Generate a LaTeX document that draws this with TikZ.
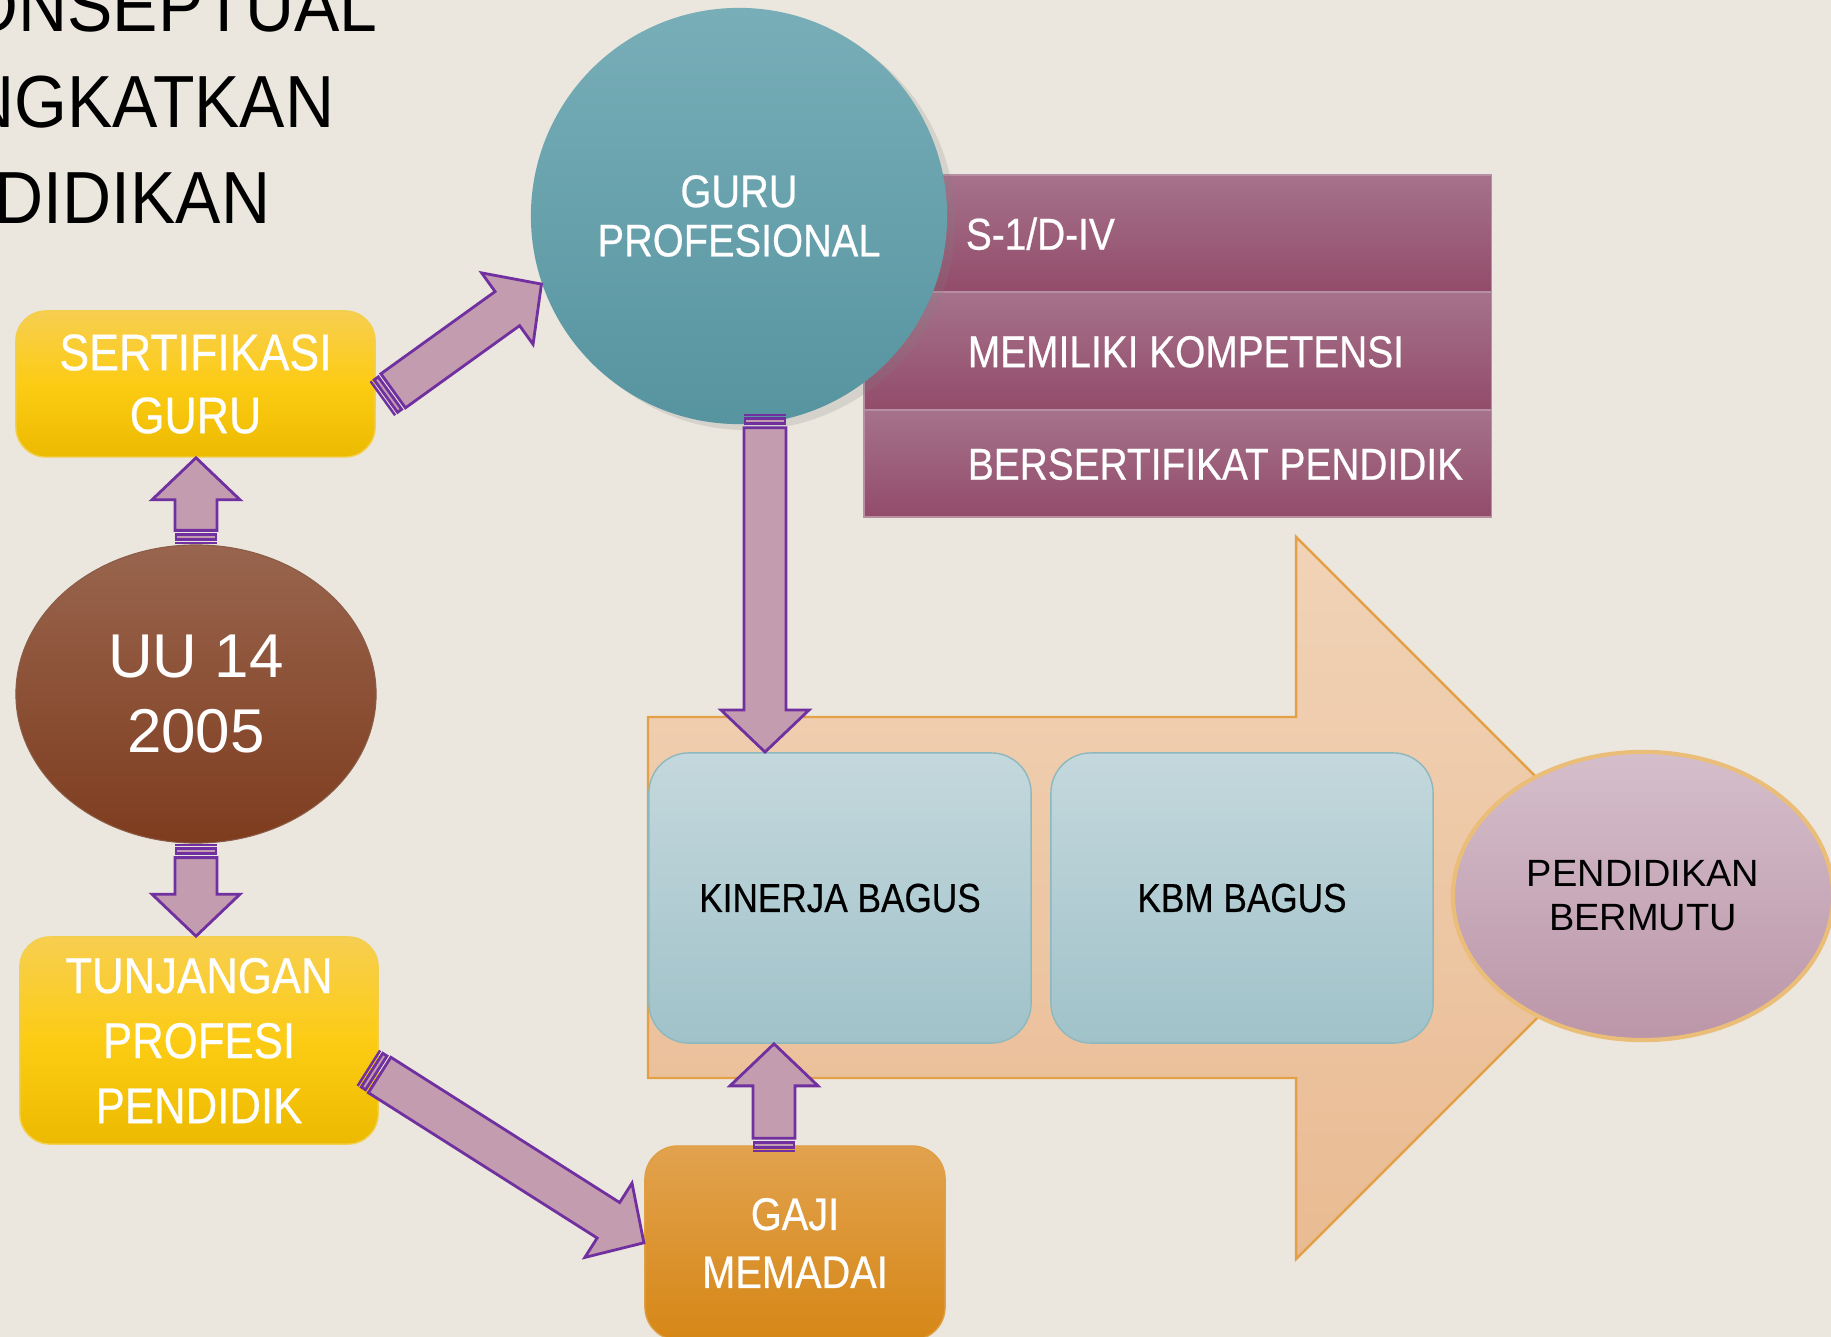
\documentclass[tikz,border=0pt]{standalone}
\usepackage{fontspec}
\setmainfont{Liberation Sans}
\newfontfamily\condfont{Liberation Sans}[FakeStretch=0.87, FakeBold=0.5]
\newfontfamily\titlefont{Liberation Sans}[FakeStretch=0.92]
\usetikzlibrary{positioning,calc,shadows,shapes.geometric}

\definecolor{bgbeige}{RGB}{235,231,222}
\definecolor{tealA}{RGB}{120,174,184}
\definecolor{tealB}{RGB}{86,148,160}
\definecolor{plumA}{RGB}{166,114,139}
\definecolor{plumB}{RGB}{146,76,106}
\definecolor{bigA}{RGB}{241,211,183}
\definecolor{bigB}{RGB}{233,187,146}
\definecolor{bigline}{RGB}{228,160,70}
\definecolor{blueA}{RGB}{196,216,221}
\definecolor{blueB}{RGB}{160,194,201}
\definecolor{blueline}{RGB}{140,184,190}
\definecolor{pendA}{RGB}{213,190,203}
\definecolor{pendB}{RGB}{187,150,168}
\definecolor{pendline}{RGB}{234,190,120}
\definecolor{yelA}{RGB}{247,206,80}
\definecolor{yelB}{RGB}{252,204,20}
\definecolor{yelC}{RGB}{236,186,0}
\definecolor{brownA}{RGB}{153,101,78}
\definecolor{brownB}{RGB}{126,60,30}
\definecolor{gajiA}{RGB}{226,162,78}
\definecolor{gajiB}{RGB}{214,135,22}
\definecolor{arrfill}{RGB}{196,156,175}
\definecolor{arrline}{RGB}{112,48,160}

\tikzset{
  arrbody/.style={fill=arrfill, draw=arrline, line width=0.8pt, line join=miter},
  titletext/.style={anchor=base east, inner sep=0, font=\titlefont\fontsize{21}{25}\selectfont},
  yellowbox/.style={rounded corners=0.3cm, top color=yelA, bottom color=yelC, middle color=yelB,
    draw=yelC!70!white, minimum width=3.59cm, align=center, text=white, inner sep=0},
  bluebox/.style={rounded corners=0.4cm, top color=blueA, bottom color=blueB, draw=blueline,
    minimum width=3.82cm, minimum height=2.9cm, inner sep=0,
    font=\condfont\fontsize{11.5}{14}\selectfont},
  barrow/.style={minimum width=6.27cm, inner sep=0, top color=plumA, bottom color=plumB,
    draw=plumA!80!white, line width=0.4pt},
  bartext/.style={inner sep=0, text=white, text height=9.2pt, text depth=0pt,
    font=\condfont\fontsize{12.7}{15}\selectfont}
}

% panah blok bergaris
\newcommand{\blockarr}[2]{%
  \path (#1); \pgfgetlastxy{\ax}{\ay}
  \path (#2); \pgfgetlastxy{\bx}{\by}
  \pgfmathsetmacro{\arrang}{atan2(\by-\ay,\bx-\ax)}
  \pgfmathsetmacro{\arrlen}{veclen(\bx-\ax,\by-\ay)/0.284528}
  \begin{scope}[shift={(\ax,\ay)}, rotate=\arrang, x=0.01cm, y=0.01cm]
    \fill[arrline] (0,-21) rectangle (2.5,21);
    \draw[arrbody] (5,-20) rectangle (10,20);
    \draw[arrbody] (14,-21) -- (\arrlen-42,-21) -- (\arrlen-42,-44) -- (\arrlen,0)
      -- (\arrlen-42,44) -- (\arrlen-42,21) -- (14,21) -- cycle;
  \end{scope}}

\begin{document}
\begin{tikzpicture}[x=0.01cm, y=-0.01cm]
\useasboundingbox (0,0) rectangle (1831,1337);
\fill[bgbeige] (0,0) rectangle (1831,1337);

% judul (terpotong di kiri)
\node[titletext] (tt1) at (378,32) {ONSEPTUAL};
\node[titletext] (tt2) at (335,128) {NGKATKAN};
\node[titletext] (tt3) at (271,224) {DIDIKAN};

% panah besar
\draw[top color=bigA, bottom color=bigB, draw=bigline, line width=0.7pt]
  (648,717) -- (1296,717) -- (1296,537) -- (1657,898) -- (1296,1259) -- (1296,1078) -- (648,1078) -- cycle;

% syarat guru
\node[barrow, minimum height=1.17cm] (r1) at (1177.5,233.5) {};
\node[barrow, minimum height=1.18cm] (r2) at (1177.5,351) {};
\node[barrow, minimum height=1.07cm] (r3) at (1177.5,463.5) {};
\node[bartext, right=1.02cm of r1.west] (b1) {S-1/D-IV};
\node[bartext, right=1.04cm of r2.west] (b2) {MEMILIKI KOMPETENSI};
\node[bartext, right=1.04cm of r3.west] (b3) {BERSERTIFIKAT PENDIDIK};

\node[circle, minimum size=4.16cm, inner sep=0, top color=tealA, bottom color=tealB,
  drop shadow={opacity=0.2, shadow xshift=0.08cm, shadow yshift=-0.06cm},
  text=white, align=center, font=\condfont\fontsize{13}{14}\selectfont] (guru) at (739,216) {GURU\\PROFESIONAL};

\node[yellowbox, minimum height=1.46cm, font=\condfont\fontsize{14.6}{17.9}\selectfont] (sert) at (195.5,384) {SERTIFIKASI\\GURU};
\node[ellipse, minimum width=3.6cm, minimum height=2.98cm, inner sep=0, top color=brownA, bottom color=brownB,
  draw=brownA!90!black, line width=0.3pt, text=white, align=center,
  font=\fontsize{17.6}{21.6}\selectfont] (uu) at (196,694) {UU 14\\2005};
\node[yellowbox, minimum width=3.58cm, minimum height=2.07cm, font=\condfont\fontsize{14.3}{18.5}\selectfont] (tunj) at (199,1040.5) {TUNJANGAN\\PROFESI\\PENDIDIK};
\node[rounded corners=0.33cm, minimum width=3cm, minimum height=1.94cm, inner sep=0, top color=gajiA, bottom color=gajiB,
  draw=gajiB!80!white, text=white, align=center, font=\condfont\fontsize{13}{16.5}\selectfont] (gaji) at (795,1243) {GAJI\\MEMADAI};

\node[bluebox] (kinerja) at (840,898) {KINERJA BAGUS};
\node[bluebox] (kbm) at (1242,898) {KBM BAGUS};
\node[ellipse, minimum width=3.8cm, minimum height=2.88cm, inner sep=0, top color=pendA, bottom color=pendB,
  draw=pendline, line width=1.2pt, align=center, font=\fontsize{10.8}{12.5}\selectfont] (pend) at (1643,896) {PENDIDIKAN\\BERMUTU};

% panah
\coordinate (sg) at ($(sert.east)+(6,15)$);
\coordinate (tg) at ($(tunj.east)+(-11,27)$);
\coordinate (gp) at ($(guru.south)+(26,-11)$);
\coordinate (gj) at ($(gaji.north)+(-21,7)$);
\blockarr{uu.north}{uu.north |- sert.south}
\blockarr{uu.south}{uu.south |- tunj.north}
\blockarr{sg}{guru.199}
\blockarr{tg}{gaji.west}
\blockarr{gp}{gp |- kinerja.north}
\blockarr{gj}{gj |- kinerja.south}
\end{tikzpicture}
\end{document}
